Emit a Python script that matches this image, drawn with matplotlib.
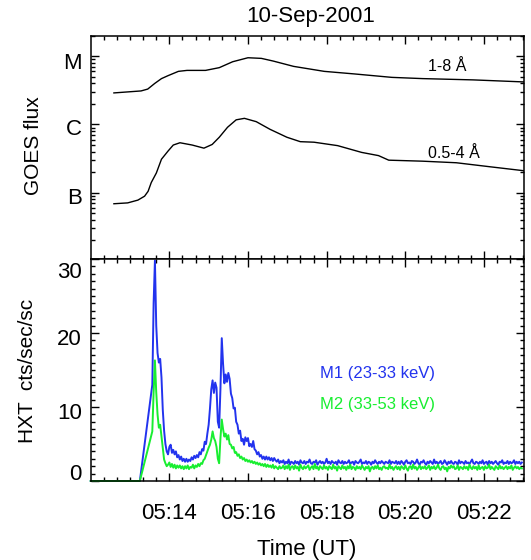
"""
GOES flux and Yohkoh HXT count rates, 10-Sep-2001 flare.
"""

import matplotlib
matplotlib.use('Agg')

import matplotlib.pyplot as plt
import numpy as np
from matplotlib.ticker import MultipleLocator, FuncFormatter, LogLocator, NullFormatter
from matplotlib.transforms import ScaledTranslation

plt.rcParams['font.family'] = ['Liberation Sans', 'DejaVu Sans']

# GOES light curves: time in minutes after 05:00 UT, flux in W/m^2
goes_long_t = [12.59, 13.28, 13.45, 13.63, 13.80, 13.97, 14.23, 14.45, 14.92, 15.27,
               15.61, 16.00, 16.34, 16.64, 17.16, 17.94, 18.71, 19.66, 20.44, 21.73, 23.02]
goes_long = [2.9e-6, 3.1e-6, 3.3e-6, 4.0e-6, 4.7e-6, 5.2e-6, 6.0e-6, 6.2e-6, 6.2e-6, 6.8e-6,
             8.3e-6, 9.5e-6, 9.3e-6, 8.5e-6, 7.1e-6, 6.0e-6, 5.5e-6, 4.9e-6, 4.7e-6, 4.5e-6, 4.2e-6]

goes_short_t = [12.59, 12.94, 13.20, 13.37, 13.46, 13.54, 13.67, 13.80, 13.97, 14.10, 14.27,
                14.58, 14.88, 15.09, 15.27, 15.48, 15.70, 15.91, 16.21, 16.56, 16.99,
                17.33, 17.68, 18.28, 18.89, 19.32, 19.58, 20.44, 21.30, 22.16, 23.02]
goes_short = [6.9e-8, 7.1e-8, 7.8e-8, 8.9e-8, 1.05e-7, 1.41e-7, 1.95e-7, 3.1e-7, 4.1e-7, 5.0e-7, 5.4e-7,
              5.0e-7, 4.5e-7, 5.1e-7, 6.5e-7, 9.1e-7, 1.17e-6, 1.23e-6, 1.10e-6, 8.5e-7, 6.5e-7,
              5.6e-7, 5.5e-7, 4.9e-7, 3.9e-7, 3.5e-7, 3.0e-7, 2.9e-7, 2.75e-7, 2.4e-7, 2.1e-7]

goes_class_values = [1e-7, 1e-6, 1e-5]
goes_class_labels = ['B', 'C', 'M']

# HXT: no data before the gap end, then 2 s samples from 05:13:34
hxt_gap_t = [12.0, 13.25]
hxt_gap = [0.0, 0.0]
hxt_start = 13 + 34 / 60.0
hxt_step = 2 / 60.0

m1_counts = [
    13.0, 24.0, 29.8, 21.0, 17.3, 16.0, 16.5, 14.0, 9.6, 6.8,
    5.0, 4.0, 3.6, 4.6, 4.9, 3.8, 4.2, 3.6, 4.0, 3.2,
    3.5, 2.9, 3.3, 2.7, 3.0, 2.6, 3.0, 2.6, 2.9, 2.7,
    3.2, 2.9, 3.4, 3.1, 3.5, 3.2, 3.9, 3.6, 4.3, 4.1,
    5.3, 5.0, 6.4, 7.6, 9.8, 12.4, 13.6, 11.9, 13.3, 12.6,
    8.0, 7.2, 12.5, 19.3, 15.8, 13.2, 14.4, 13.4, 14.6, 13.8,
    11.8, 11.2, 9.8, 9.9, 8.0, 7.6, 6.4, 6.8, 5.4, 5.7,
    4.9, 5.9, 5.4, 5.8, 4.7, 5.0, 4.6, 5.4, 4.3, 4.1,
    3.6, 3.9, 3.3, 3.5, 3.0, 3.3, 2.9, 3.3, 2.9, 3.2,
    2.8, 3.1, 2.7, 3.1, 2.8, 2.6, 2.9, 2.4, 2.7,
    2.5, 2.8, 2.3, 2.6, 2.4, 2.9, 2.2, 2.6, 2.5, 2.3,
    2.7, 2.4, 2.6, 2.2, 2.8, 2.5, 2.4, 2.7, 2.3, 2.6,
    2.5, 2.9, 2.4, 2.3, 2.6, 2.5, 2.8, 2.2, 2.5, 2.7,
    2.4, 2.6, 2.3, 2.5, 3.0, 2.4, 2.6, 2.3, 2.7, 2.5,
    2.4, 2.6, 2.2, 2.8, 2.5, 2.4, 2.7, 2.3, 2.6, 2.4,
    2.5, 2.8, 2.3, 2.5, 2.6, 2.2, 2.7, 2.5, 2.4, 2.6,
    2.9, 2.3, 2.5, 2.4, 2.7, 2.3, 2.6, 2.5, 2.2, 2.6,
    2.4, 2.8, 2.5, 2.3, 2.6, 2.4, 2.7, 2.5, 2.3, 2.6,
    2.5, 2.4, 2.8, 2.3, 2.6, 2.5, 2.4, 2.7, 2.3, 2.6,
    2.3, 2.7, 2.5, 2.2, 2.6, 2.8, 2.4, 2.5, 2.3, 2.7,
    2.6, 2.3, 2.5, 2.9, 2.4, 2.2, 2.6, 2.5, 2.8, 2.4,
    2.2, 2.6, 2.4, 2.7, 2.5, 2.3, 2.9, 2.4, 2.6, 2.3,
    2.5, 2.7, 2.3, 2.4, 2.8, 2.5, 2.2, 2.6, 2.4, 2.7,
    2.4, 2.3, 2.6, 2.5, 2.2, 2.8, 2.4, 2.6, 2.5, 2.3,
    2.7, 2.4, 2.5, 2.3, 2.6, 2.9, 2.4, 2.3, 2.6, 2.5,
    2.3, 2.6, 2.4, 2.8, 2.3, 2.5, 2.6, 2.2, 2.7, 2.4,
    2.6, 2.3, 2.5, 2.7, 2.4, 2.2, 2.6, 2.5, 2.8, 2.3,
    2.5, 2.4, 2.7, 2.3, 2.6, 2.4, 2.5, 2.8, 2.3, 2.6,
    2.4, 2.6, 2.3, 2.5,
]
m2_counts = [
    6.7, 12.0, 16.3, 12.0, 9.0, 7.2, 7.6, 6.0, 4.5, 2.9,
    2.4, 2.0, 2.2, 2.5, 1.9, 2.3, 1.8, 2.2, 1.7, 2.1,
    1.8, 2.1, 1.7, 2.0, 1.6, 2.0, 1.7, 2.1, 1.6, 1.9,
    1.8, 2.2, 1.7, 2.1, 1.9, 2.3, 2.0, 2.4, 2.3, 2.8,
    3.0, 3.5, 4.0, 4.5, 4.9, 5.6, 6.7, 5.8, 5.4, 4.6,
    3.0, 2.4, 5.8, 8.3, 7.0, 6.0, 6.4, 5.6, 6.2, 5.0,
    4.9, 4.4, 4.6, 3.8, 3.9, 3.4, 3.6, 3.1, 3.3, 2.9,
    3.1, 2.7, 2.9, 2.6, 2.8, 2.5, 2.7, 2.4, 2.6, 2.3,
    2.5, 2.2, 2.4, 2.1, 2.3, 2.0, 2.3, 1.9, 2.2, 1.9,
    2.1, 1.8, 2.2, 1.7, 2.0, 1.8, 1.6, 2.0, 1.7,
    1.8, 2.1, 1.6, 2.0, 1.7, 2.2, 1.5, 1.9, 2.0, 1.6,
    2.1, 1.7, 1.9, 1.4, 2.2, 1.8, 1.6, 2.0, 1.7, 1.9,
    2.1, 1.5, 1.8, 2.0, 1.6, 2.3, 1.7, 1.9, 1.5, 2.0,
    1.8, 1.6, 2.1, 1.7, 1.9, 1.5, 2.0, 1.8, 1.6, 2.2,
    1.7, 1.9, 1.4, 2.0, 1.8, 1.6, 2.1, 1.7, 1.9, 1.5,
    2.0, 1.7, 2.2, 1.6, 1.9, 1.8, 1.5, 2.0, 1.7, 1.9,
    1.6, 2.1, 1.8, 1.5, 1.9, 1.7, 2.0, 1.3, 1.8, 1.9,
    1.6, 2.0, 1.7, 2.1, 1.6, 1.8, 1.5, 1.9, 2.0, 1.7,
    1.8, 1.6, 2.2, 1.7, 1.9, 1.5, 1.8, 2.0, 1.6, 1.9,
    1.5, 2.0, 1.8, 1.6, 2.1, 1.7, 1.4, 1.9, 2.0, 1.6,
    2.2, 1.7, 1.9, 1.5, 1.8, 2.1, 1.6, 1.9, 1.7, 2.0,
    1.6, 1.8, 2.1, 1.5, 1.9, 1.7, 2.0, 1.6, 1.8, 2.2,
    1.7, 1.5, 1.9, 2.0, 1.6, 1.8, 1.3, 1.9, 1.7, 2.1,
    1.8, 2.0, 1.6, 1.7, 2.1, 1.5, 1.9, 1.8, 1.6, 2.0,
    1.7, 1.9, 1.5, 2.2, 1.8, 1.6, 2.0, 1.7, 1.9, 1.5,
    2.1, 1.6, 1.8, 1.9, 1.5, 2.0, 1.7, 1.8, 2.2, 1.6,
    1.9, 1.7, 1.5, 2.0, 1.8, 1.6, 2.1, 1.7, 1.9, 1.6,
    1.8, 2.0, 1.6, 1.9, 1.7, 2.1, 1.5, 1.8, 2.0, 1.7,
    1.9, 1.6, 1.8, 1.7,
]
hxt_yticks = [0, 10, 20, 30]

BLUE = '#2233ee'
GREEN = '#18ee30'


def minute_label(value, pos):
    return '05:%02d' % int(round(value))


def style_axis(ax):
    ax.tick_params(which='both', direction='in', top=True, right=True,
                   width=1.0, labelsize=16)
    ax.tick_params(which='major', length=6)
    ax.tick_params(which='minor', length=3)
    for spine in ax.spines.values():
        spine.set_linewidth(1.1)


def shift_labels(fig, labels, offsets_px):
    for label, dy in zip(labels, offsets_px):
        label.set_transform(label.get_transform() +
                            ScaledTranslation(0, dy / fig.dpi, fig.dpi_scale_trans))


def hxt_series(counts):
    times = hxt_start + np.arange(len(counts)) * hxt_step
    return np.concatenate([hxt_gap_t, times]), np.concatenate([hxt_gap, counts])


fig = plt.figure(figsize=(5.31, 5.6), dpi=100)
ax_goes = fig.add_axes([0.1723, 0.5375, 0.8145, 0.3988])
ax_hxt = fig.add_axes([0.1723, 0.1411, 0.8145, 0.3964], sharex=ax_goes)

# --- GOES panel
ax_goes.plot(goes_long_t, goes_long, color='black', linewidth=1.0)
ax_goes.plot(goes_short_t, goes_short, color='black', linewidth=1.0)
ax_goes.set_yscale('log')
ax_goes.set_ylim(1.07e-8, 2.0e-5)
ax_goes.set_yticks(goes_class_values)
ax_goes.set_yticklabels(goes_class_labels)
ax_goes.yaxis.set_minor_locator(LogLocator(base=10, subs=np.arange(2, 10), numticks=20))
ax_goes.yaxis.set_minor_formatter(NullFormatter())
ax_goes.text(21.06, 7.1e-6, '1-8 Å', fontsize=11.5, ha='center', va='center')
ax_goes.text(21.24, 3.7e-7, '0.5-4 Å', fontsize=11.5, ha='center', va='center')
style_axis(ax_goes)
ax_goes.tick_params(labelbottom=False, pad=7)

# --- HXT panel
t_m1, c_m1 = hxt_series(m1_counts)
t_m2, c_m2 = hxt_series(m2_counts)
ax_hxt.plot(t_m1, c_m1, color=BLUE, linewidth=1.4, clip_on=False)
ax_hxt.plot(t_m2, c_m2, color=GREEN, linewidth=1.4, clip_on=False)
ax_hxt.set_ylim(0, 30)
ax_hxt.set_yticks(hxt_yticks)
ax_hxt.yaxis.set_minor_locator(MultipleLocator(1))
ax_hxt.set_xlim(12.02, 23.02)
ax_hxt.xaxis.set_major_locator(MultipleLocator(2))
ax_hxt.xaxis.set_minor_locator(MultipleLocator(1 / 3.0))
ax_hxt.xaxis.set_major_formatter(FuncFormatter(minute_label))
ax_hxt.text(19.30, 14.55, 'M1 (23-33 keV)', color=BLUE, fontsize=12, ha='center', va='center')
ax_hxt.text(19.30, 10.4, 'M2 (33-53 keV)', color=GREEN, fontsize=12, ha='center', va='center')
style_axis(ax_hxt)
ax_hxt.tick_params(axis='y', pad=7)
ax_hxt.tick_params(axis='x', pad=16)

fig.text(0.586, 0.970, '10-Sep-2001', fontsize=16, ha='center', va='center')
fig.text(0.063, 0.740, 'GOES flux', fontsize=15, rotation=90, ha='center', va='center')
fig.text(0.051, 0.337, 'HXT  cts/sec/sc', fontsize=15, rotation=90, ha='center', va='center')
fig.text(0.577, 0.018, 'Time (UT)', fontsize=16, ha='center', va='center')

# IDL-style label placement: labels sit a little below their ticks
shift_labels(fig, ax_goes.get_yticklabels(), [-3, -3, -5])
shift_labels(fig, ax_hxt.get_yticklabels(), [9, -4.5, -4, -11])

plt.savefig('out.png', dpi=100)
plt.close()
